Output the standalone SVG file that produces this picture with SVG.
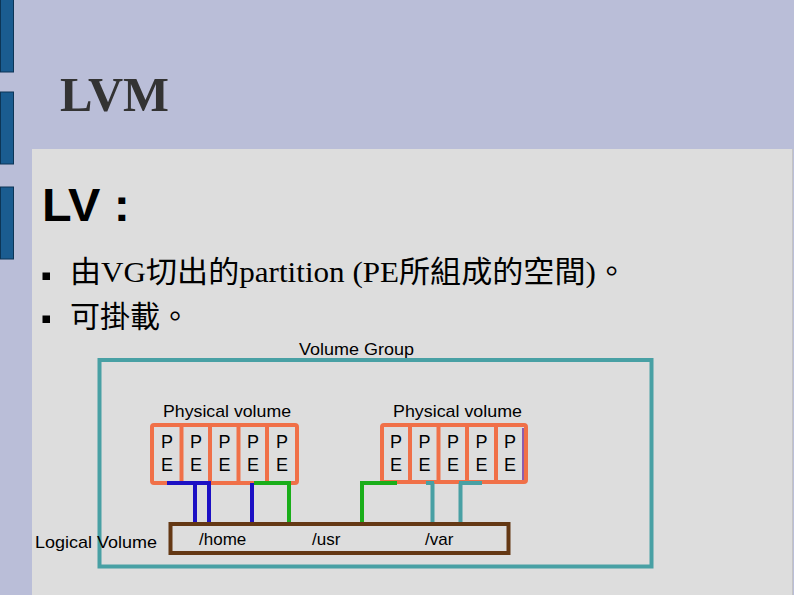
<svg xmlns="http://www.w3.org/2000/svg" width="794" height="595" viewBox="0 0 794 595">
<style>
.sans{font-family:"Liberation Sans",Arial,sans-serif;fill:#000}
.lbl{font-size:17px}
.pe{font-size:18px;text-anchor:middle}
.cjk{font-family:"Liberation Serif","Noto Sans CJK TC",serif;font-size:30px;fill:#000}
.bar{fill:#1a5c90;stroke:#0c3556;stroke-width:1}
.pv{fill:none;stroke:#f07048;stroke-width:4;stroke-linejoin:round}
.div{stroke:#f07048;stroke-width:4}
.c{fill:none;stroke-width:4;stroke-linecap:butt}
.blue{stroke:#1c10c4}
.green{stroke:#1aae1a}
.teal{stroke:#48a0a4}
</style>
<rect x="0" y="0" width="794" height="595" fill="#babed8"/>
<rect x="32" y="149" width="761" height="446" fill="#dddddd"/>
<line x1="792.5" y1="149" x2="792.5" y2="595" stroke="#c4c4c4" stroke-width="1"/>
<rect class="bar" x="0.5" y="-1" width="13" height="73"/>
<rect class="bar" x="0.5" y="92" width="13" height="72"/>
<rect class="bar" x="0.5" y="187" width="13" height="72"/>
<text x="60" y="111" font-family="Liberation Serif,serif" font-weight="bold" font-size="48" fill="#333333" textLength="109" lengthAdjust="spacingAndGlyphs">LVM</text>
<text x="42" y="221" font-family="Liberation Sans,Arial,sans-serif" font-weight="bold" font-size="46" fill="#000" textLength="88" lengthAdjust="spacingAndGlyphs">LV :</text>
<rect x="42.5" y="272.5" width="7.5" height="7.5" fill="#000"/>
<rect x="42.5" y="315.5" width="7.5" height="7.5" fill="#000"/>
<text class="cjk" x="70" y="282" textLength="557" lengthAdjust="spacingAndGlyphs">由VG切出的partition (PE所組成的空間)。</text>
<text class="cjk" x="70" y="327">可掛載。</text>
<g id="vg">
<rect x="99.5" y="360" width="552" height="206.5" fill="none" stroke="#48a0a4" stroke-width="4"/>
<text class="sans lbl" x="299" y="355" textLength="115" lengthAdjust="spacingAndGlyphs">Volume Group</text>
</g>
<g id="pv1">
<text class="sans lbl" x="163" y="417" textLength="128" lengthAdjust="spacingAndGlyphs">Physical volume</text>
<rect class="pv" x="152" y="425" width="145" height="58" rx="2"/>
<line class="div" x1="181.5" y1="425" x2="181.5" y2="483"/>
<line class="div" x1="210" y1="425" x2="210" y2="483"/>
<line class="div" x1="238.5" y1="425" x2="238.5" y2="483"/>
<line class="div" x1="267" y1="425" x2="267" y2="483"/>
<g class="sans pe">
<text x="167" y="448">P</text><text x="167" y="471">E</text>
<text x="196" y="448">P</text><text x="196" y="471">E</text>
<text x="224.5" y="448">P</text><text x="224.5" y="471">E</text>
<text x="253" y="448">P</text><text x="253" y="471">E</text>
<text x="282" y="448">P</text><text x="282" y="471">E</text>
</g>
</g>
<g id="pv2">
<text class="sans lbl" x="393" y="417" textLength="129" lengthAdjust="spacingAndGlyphs">Physical volume</text>
<rect class="pv" x="382" y="425" width="144" height="57" rx="2"/>
<line class="div" x1="410" y1="425" x2="410" y2="482"/>
<line class="div" x1="438.5" y1="425" x2="438.5" y2="482"/>
<line class="div" x1="467" y1="425" x2="467" y2="482"/>
<line class="div" x1="496" y1="425" x2="496" y2="482"/>
<line x1="523" y1="428" x2="523" y2="480" stroke="#7030a0" stroke-width="1.5"/>
<g class="sans pe">
<text x="396" y="448">P</text><text x="396" y="471">E</text>
<text x="424.5" y="448">P</text><text x="424.5" y="471">E</text>
<text x="453" y="448">P</text><text x="453" y="471">E</text>
<text x="481.5" y="448">P</text><text x="481.5" y="471">E</text>
<text x="510" y="448">P</text><text x="510" y="471">E</text>
</g>
</g>
<g id="connectors">
<path class="c blue" d="M167 483H211M195 483V523M209 483V523"/>
<path class="c blue" d="M252 483V523"/>
<path class="c green" d="M254 483H291M289 483V523"/>
<path class="c green" d="M397 483H362V523"/>
<path class="c teal" d="M426 483H434M432.5 483V523"/>
<path class="c teal" d="M459 483H482M460.5 483V523"/>
</g>
<g id="lv">
<rect x="170.5" y="524" width="338" height="29" fill="none" stroke="#643814" stroke-width="4"/>
<text class="sans lbl" x="199" y="545">/home</text>
<text class="sans lbl" x="312" y="545">/usr</text>
<text class="sans lbl" x="425" y="545">/var</text>
</g>
<text class="sans lbl" x="35" y="548" textLength="122" lengthAdjust="spacingAndGlyphs">Logical Volume</text>
</svg>
